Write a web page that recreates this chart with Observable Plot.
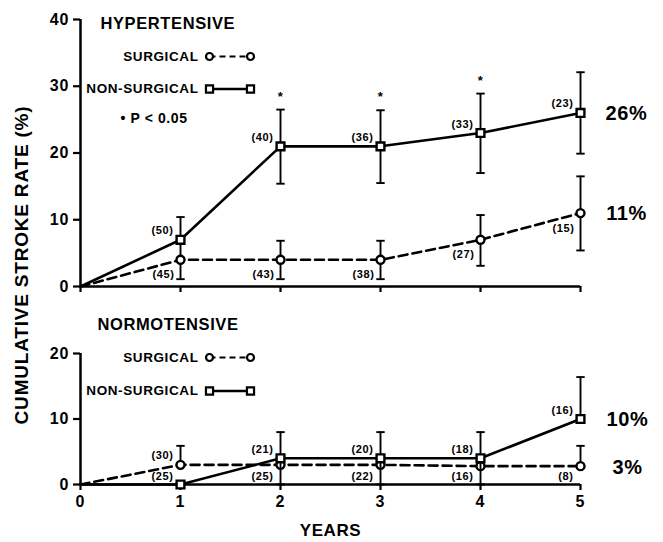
<!DOCTYPE html>
<html><head><meta charset="utf-8">
<script src="https://cdn.jsdelivr.net/npm/d3@7"></script>
<script src="https://cdn.jsdelivr.net/npm/@observablehq/plot@0.6"></script>
<style>
body{margin:0;background:#fff;}
#wrap{position:relative;width:663px;height:542px;background:#fff;font-family:"Liberation Sans",Arial,sans-serif;font-weight:bold;color:#000;overflow:hidden;}
#topPanel,#botPanel{position:absolute;left:0;}
#topPanel{top:0;} #botPanel{top:300px;}
#ylab{position:absolute;left:22px;top:265px;transform:translate(-50%,-50%) rotate(-90deg);white-space:nowrap;font-size:19px;letter-spacing:0.8px;}
#wrap svg g[aria-label$="axis tick label"] text{font-size:16px;font-weight:bold;letter-spacing:1px;}
</style></head><body>
<div id="wrap"><div id="topPanel"></div><div id="botPanel"></div><div id="ylab">CUMULATIVE STROKE RATE (%)</div></div>
<script>
// ---- data ----
const years = [0, 1, 2, 3, 4, 5];
const xTicks = [0, 1, 2, 3, 4, 5];

const hyperYTicks = [0, 10, 20, 30, 40];
const hyperSurgical = [0, 4, 4, 4, 7, 11];
const hyperSurgicalLow = [null, 1.1, 1.1, 1.1, 3.1, 5.4];
const hyperSurgicalHigh = [null, 6.9, 6.85, 6.85, 10.7, 16.5];
const hyperSurgicalN = [null, 45, 43, 38, 27, 15];
const hyperNonSurgical = [0, 7, 21, 21, 23, 26];
const hyperNonSurgicalLow = [null, null, 15.4, 15.5, 17, 19.9];
const hyperNonSurgicalHigh = [null, 10.4, 26.5, 26.4, 28.9, 32.1];
const hyperNonSurgicalN = [null, 50, 40, 36, 33, 23];
const significantYears = [2, 3, 4];

const normoYTicks = [0, 10, 20];
const normoSurgical = [0, 3, 3, 3, 2.8, 2.8];
const normoSurgicalLow = [null, null, null, null, null, null];
const normoSurgicalHigh = [null, 5.9, null, null, null, 5.9];
const normoSurgicalN = [null, 30, 25, 22, 16, 8];
const normoNonSurgical = [0, 0, 4, 4, 4, 10];
const normoNonSurgicalLow = [null, null, 0, 0, 0, null];
const normoNonSurgicalHigh = [null, null, 8, 8, 8, 16.4];
const normoNonSurgicalN = [null, 25, 21, 20, 18, 16];

// ---- helpers ----
const FONT = '"Liberation Sans", Arial, Helvetica, sans-serif';
const hline = {draw(c, size) { const r = Math.sqrt(size / Math.PI); c.moveTo(-r, 0); c.lineTo(r, 0); }};
const DASH = "9,5";

function rows(vals, lo, hi, n) {
  return years.map((x, i) => ({x, y: vals[i], lo: lo[i], hi: hi[i], n: n[i]}));
}
function caps(rs) {
  const out = [];
  for (const d of rs) {
    if (d.lo != null) out.push({x: d.x, v: d.lo});
    if (d.hi != null) out.push({x: d.x, v: d.hi});
  }
  return out;
}
function seriesMarks(rs, symbol, dashed) {
  const withBar = rs.filter(d => d.lo != null || d.hi != null);
  const pts = rs.filter(d => d.x > 0);
  return [
    Plot.line(rs, {x: "x", y: "y", stroke: "black", strokeWidth: 2.6, strokeDasharray: dashed ? DASH : null}),
    Plot.ruleX(withBar, {x: "x", y1: d => d.lo ?? d.y, y2: d => d.hi ?? d.y, stroke: "black", strokeWidth: 1.9}),
    Plot.dot(caps(rs), {x: "x", y: "v", symbol: hline, r: 4.2, stroke: "black", strokeWidth: 1.9}),
    Plot.dot(pts, {x: "x", y: "y", symbol, r: symbol === "square" ? 4.4 : 4, fill: "white", stroke: "black", strokeWidth: 2.4})
  ];
}
const T = {frameAnchor: "top-left", lineAnchor: "middle", fontWeight: "bold"};
function legendMarks(dyS, dyN) {
  return [
    Plot.text(["SURGICAL"], {...T, dx: 118, dy: dyS, textAnchor: "end", fontSize: 13.5}),
    Plot.dot([0], {frameAnchor: "top-left", dx: 149, dy: dyS, symbol: hline, r: 20, stroke: "black", strokeWidth: 2.2, strokeDasharray: "6,4"}),
    Plot.dot([0], {frameAnchor: "top-left", dx: 129, dy: dyS, r: 3.5, fill: "white", stroke: "black", strokeWidth: 2.2}),
    Plot.dot([0], {frameAnchor: "top-left", dx: 170, dy: dyS, r: 3.5, fill: "white", stroke: "black", strokeWidth: 2.2}),
    Plot.text(["NON-SURGICAL"], {...T, dx: 118, dy: dyN, textAnchor: "end", fontSize: 13.5}),
    Plot.dot([0], {frameAnchor: "top-left", dx: 149, dy: dyN, symbol: hline, r: 20, stroke: "black", strokeWidth: 2.4}),
    Plot.dot([0], {frameAnchor: "top-left", dx: 129, dy: dyN, symbol: "square", r: 4, fill: "white", stroke: "black", strokeWidth: 2.2}),
    Plot.dot([0], {frameAnchor: "top-left", dx: 170, dy: dyN, symbol: "square", r: 4, fill: "white", stroke: "black", strokeWidth: 2.2})
  ];
}
const baseStyle = {fontFamily: FONT, fontWeight: "bold", fontSize: "15px", background: "transparent", overflow: "visible", letterSpacing: "0.6px", color: "black"};

// ---- top panel: hypertensive ----
const hs = rows(hyperSurgical, hyperSurgicalLow, hyperSurgicalHigh, hyperSurgicalN);
const hn = rows(hyperNonSurgical, hyperNonSurgicalLow, hyperNonSurgicalHigh, hyperNonSurgicalN);

const topChart = Plot.plot({
  width: 663, height: 300,
  marginLeft: 80, marginRight: 83, marginTop: 19, marginBottom: 14,
  x: {domain: [0, 5], label: null},
  y: {domain: [0, 40], label: null},
  style: baseStyle,
  marks: [
    Plot.axisY({ticks: hyperYTicks, tickSize: 7, tickPadding: 4, strokeWidth: 2.2, label: null, tickFormat: d => String(d)}),
    Plot.axisX({ticks: xTicks, tickSize: 6, strokeWidth: 2.2, tickFormat: () => "", label: null}),
    Plot.ruleX([0], {stroke: "black", strokeWidth: 2.5}),
    Plot.ruleY([0], {stroke: "black", strokeWidth: 2.5}),
    ...seriesMarks(hs, "circle", true),
    ...seriesMarks(hn, "square", false),
    Plot.text(hn.filter(d => d.n != null), {x: "x", y: "y", text: d => `(${d.n})`, textAnchor: "end", dx: -7, dy: -9, fontSize: 11, fontWeight: "bold"}),
    Plot.text(hs.filter(d => d.n != null), {x: "x", y: "y", text: d => `(${d.n})`, textAnchor: "end", dx: -6, dy: 15, fontSize: 11, fontWeight: "bold"}),
    Plot.text(significantYears, {x: d => d, y: d => hyperNonSurgicalHigh[d], text: () => "*", dy: -13, fontSize: 13, fontWeight: "bold"}),
    Plot.text([hn[hn.length - 1], hs[hs.length - 1]], {x: "x", y: "y", text: d => `${Math.round(d.y)}%`, dx: 46, dy: 1, textAnchor: "middle", fontSize: 20, fontWeight: "bold"}),
    Plot.text(["HYPERTENSIVE"], {...T, dx: 20, dy: 4, textAnchor: "start", fontSize: 16.5}),
    ...legendMarks(37, 69.5),
    Plot.text(["\u2022 P < 0.05"], {...T, dx: 40, dy: 99, textAnchor: "start", fontSize: 14})
  ]
});
document.getElementById("topPanel").append(topChart);

// ---- bottom panel: normotensive ----
const ns = rows(normoSurgical, normoSurgicalLow, normoSurgicalHigh, normoSurgicalN);
const nn = rows(normoNonSurgical, normoNonSurgicalLow, normoNonSurgicalHigh, normoNonSurgicalN);
const upperLabels = [], lowerLabels = [];
for (let i = 1; i < years.length; i++) {
  const sUp = ns[i].y > nn[i].y;
  const up = sUp ? ns[i] : nn[i], lo = sUp ? nn[i] : ns[i];
  upperLabels.push({x: years[i], y: up.y, n: up.n});
  lowerLabels.push({x: years[i], y: 0, n: lo.n});
}

const botChart = Plot.plot({
  width: 663, height: 242,
  marginLeft: 80, marginRight: 83, marginTop: 53, marginBottom: 58,
  x: {domain: [0, 5], label: null},
  y: {domain: [0, 20], label: null},
  style: baseStyle,
  marks: [
    Plot.axisY({ticks: normoYTicks, tickSize: 7, tickPadding: 4, strokeWidth: 2.2, label: null, tickFormat: d => String(d)}),
    Plot.axisX({ticks: xTicks, tickSize: 6, tickPadding: 5, strokeWidth: 2.2, label: null, tickFormat: d => String(d)}),
    Plot.ruleX([0], {stroke: "black", strokeWidth: 2.5}),
    Plot.ruleY([0], {stroke: "black", strokeWidth: 2.5}),
    ...seriesMarks(ns, "circle", true),
    ...seriesMarks(nn, "square", false),
    Plot.text(upperLabels, {x: "x", y: "y", text: d => `(${d.n})`, textAnchor: "end", dx: -7, dy: -9, fontSize: 11, fontWeight: "bold"}),
    Plot.text(lowerLabels, {x: "x", y: "y", text: d => `(${d.n})`, textAnchor: "end", dx: -7, dy: -8, fontSize: 11, fontWeight: "bold"}),
    Plot.text([nn[nn.length - 1], ns[ns.length - 1]], {x: "x", y: "y", text: d => `${Math.round(d.y)}%`, dx: 47, dy: 1, textAnchor: "middle", fontSize: 20, fontWeight: "bold"}),
    Plot.text(["NORMOTENSIVE"], {...T, dx: 17, dy: -29, textAnchor: "start", fontSize: 16.5}),
    ...legendMarks(4, 37.5),
    Plot.text(["YEARS"], {frameAnchor: "bottom", lineAnchor: "middle", dy: 46, fontSize: 17, fontWeight: "bold"})
  ]
});
document.getElementById("botPanel").append(botChart);
</script>
</body></html>
